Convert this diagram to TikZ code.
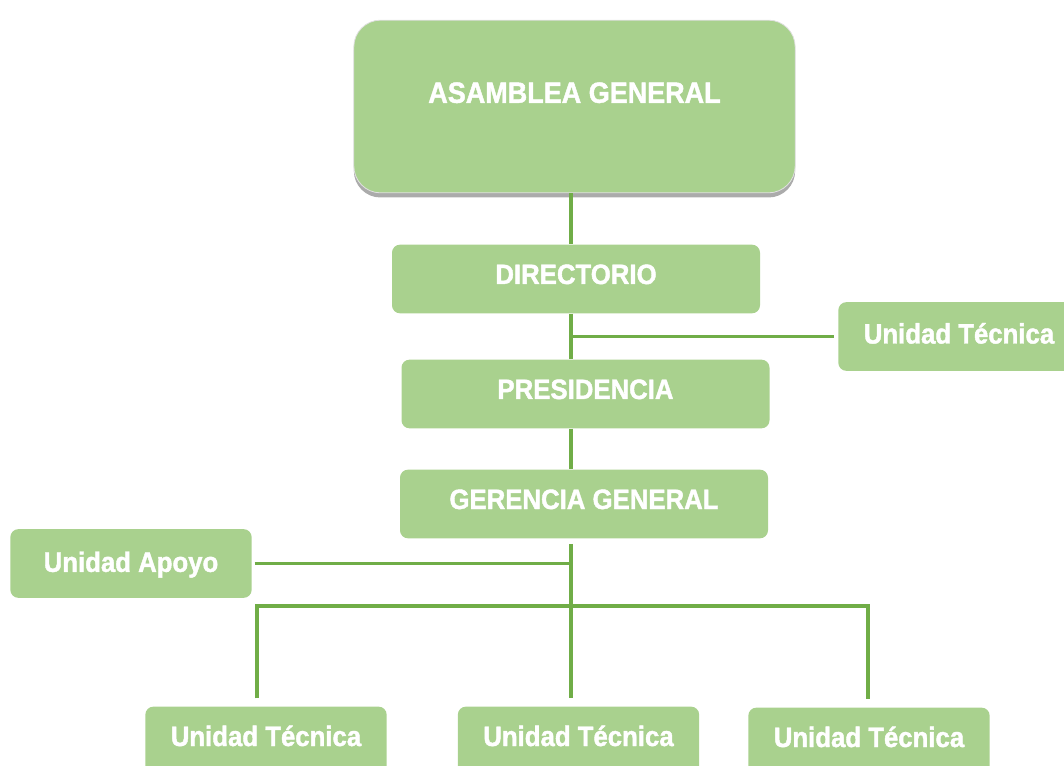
\documentclass[tikz,border=0pt]{standalone}
\usepackage{fontspec}
\setmainfont{Liberation Sans}[FakeStretch=0.92, BoldFeatures={FakeBold=1.5}]
\usetikzlibrary{shadows}
\definecolor{boxgreen}{HTML}{A9D18E}
\definecolor{linegreen}{HTML}{70AD47}

\begin{document}
\begin{tikzpicture}[x=0.75pt,y=-0.75pt,
  unit/.style={fill=boxgreen, rounded corners=6pt, text=white, font=\fontsize{21}{25}\selectfont\bfseries, inner sep=0pt, text height=29.5pt, text depth=22pt},
  wide/.style={unit, minimum width=276pt},
  side/.style={unit, minimum width=181pt},
  conn/.style={draw=linegreen, line width=2.4pt}]
  \useasboundingbox (0,0) rectangle (1064,766);
  \node [unit, draw=black!12, line width=0.6pt, rounded corners=20pt, minimum width=331pt, text height=62pt, text depth=67.5pt, font=\fontsize{22}{26}\selectfont\bfseries, drop shadow={shadow xshift=0pt, shadow yshift=-3.5pt, opacity=0.55, fill=black!60}] (asamblea) at (574.5,106.5) {ASAMBLEA GENERAL};
  \node [wide] (directorio) at (576,279) {DIRECTORIO};
  \node [wide] (presidencia) at (585.5,394) {PRESIDENCIA};
  \node [wide] (gerencia) at (584,504) {GERENCIA GENERAL};
  \node [side, text height=31pt, text depth=20.5pt] (tecR) at (959,336.5) {Unidad Técnica};
  \node [side, text height=32pt, text depth=19.5pt] (apoyo) at (131,563.5) {Unidad Apoyo};
  \node [side] (tec1) at (266,741) {Unidad Técnica};
  \node [side] (tec2) at (578.5,741) {Unidad Técnica};
  \node [side] (tec3) at (869,742) {Unidad Técnica};
  % lines
  \coordinate (trunk) at (571,0);
  \coordinate (barL) at (257,606);
  \coordinate (barR) at (868,606);
  \draw [conn] (asamblea.south -| trunk) -- (directorio.north -| trunk);
  \draw [conn] (directorio.south -| trunk) -- (presidencia.north -| trunk);
  \draw [conn, shorten <=3pt] (tecR.west) -- (tecR.west -| trunk);
  \draw [conn] (presidencia.south -| trunk) -- (gerencia.north -| trunk);
  \draw [conn, shorten <=4pt, shorten >=6pt] (gerencia.south -| trunk) -- (tec2.north -| trunk);
  \draw [conn, shorten <=2pt] (apoyo.east) -- (apoyo.east -| trunk);
  \draw [conn, shorten <=6pt, shorten >=6pt] (tec1.north -| barL) -- (barL) -- (barR) -- (tec3.north -| barR);
\end{tikzpicture}
\end{document}
